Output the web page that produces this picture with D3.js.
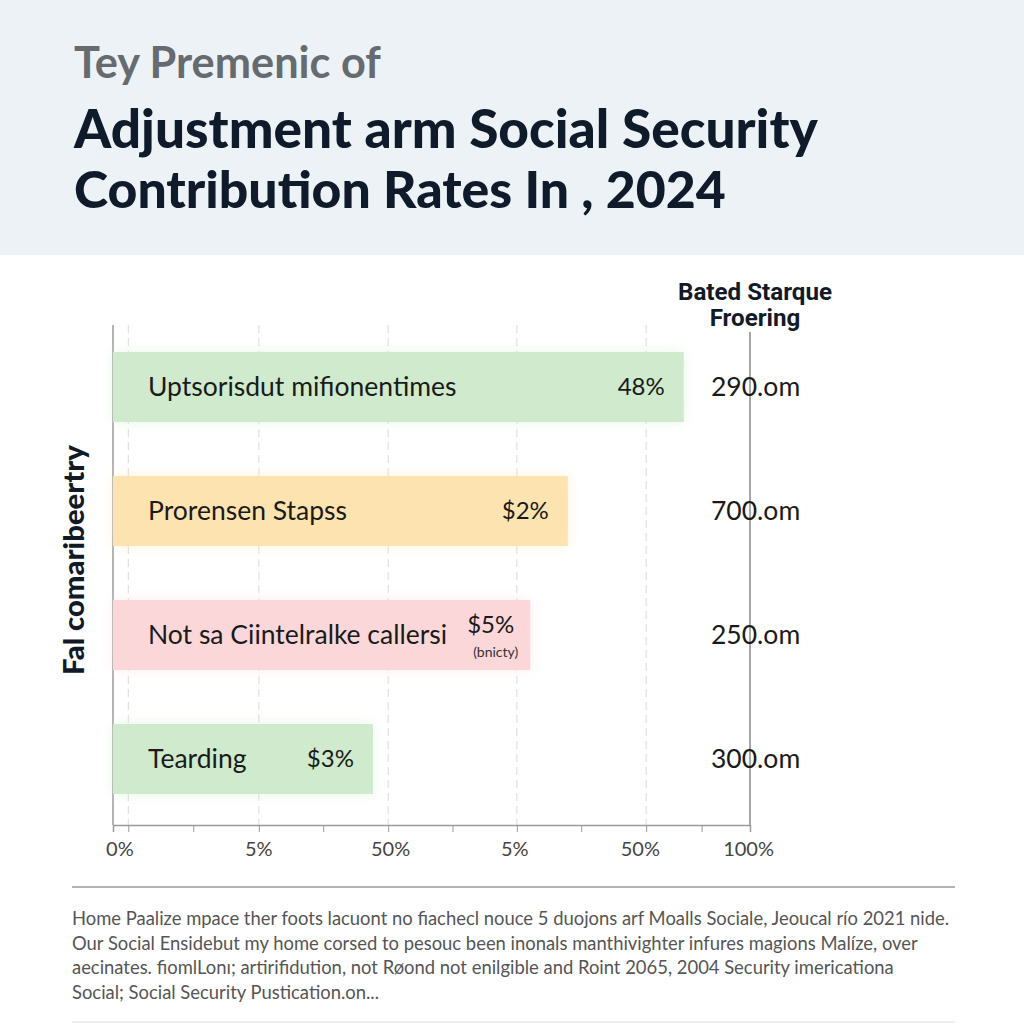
<!DOCTYPE html>
<html><head><meta charset="utf-8">
<script src="https://cdn.jsdelivr.net/npm/d3@7"></script>
<style>html,body{margin:0;padding:0;background:#fff}</style>
</head><body>
<svg id="c" width="1024" height="1024"></svg>
<script>
const categories = ["Uptsorisdut mifionentimes","Prorensen Stapss","Not sa Ciintelralke callersi","Tearding"];
const barValues = [89.6, 71.4, 65.5, 40.8];
const valueLabels = ["48%","$2%","$5%","$3%"];
const valueSubLabels = ["","","(bnicty)",""];
const rightValues = ["290.om","700.om","250.om","300.om"];
const barColors = ["#cfeacd","#fde3b0","#fbd7d9","#cfeacd"];
const tickValues = [1, 22.8, 43.5, 63, 82.7, 99.7];
const tickLabels = ["0%","5%","50%","5%","50%","100%"];
const gridValues = [2.4, 22.9, 43.2, 63.4, 83.7];
const minorTicks = [2.4, 12.6, 22.9, 33, 43.2, 53.3, 63.4, 73.5, 83.7, 92.4, 100];
const titleLines = ["Tey Premenic of","Adjustment arm Social Security","Contribution Rates In , 2024"];
const rightHeader = ["Bated Starque","Froering"];
const yTitle = "Fal comaribeertry";
const footLines = [
 "Home Paalize mpace ther foots lacuont no fiachecl nouce 5 duojons arf Moalls Sociale, Jeoucal río 2021 nide.",
 "Our Social Ensidebut my home corsed to pesouc been inonals manthivighter infures magions Malíze, over",
 "aecinates. fiomlLonı; artirifidution, not Røond not enilgible and Roint 2065, 2004 Security imericationa",
 "Social; Social Security Pustication.on..."
];

const svg = d3.select("#c");
const defs = svg.append("defs");
const f = defs.append("filter").attr("id","glow").attr("x","-10%").attr("y","-30%").attr("width","120%").attr("height","160%");
f.append("feGaussianBlur").attr("in","SourceGraphic").attr("stdDeviation",7).attr("result","b");
f.append("feComponentTransfer").attr("in","b").attr("result","b2").append("feFuncA").attr("type","linear").attr("slope",0.45);
const m = f.append("feMerge"); m.append("feMergeNode").attr("in","b2"); m.append("feMergeNode").attr("in","SourceGraphic");

svg.append("rect").attr("x",0).attr("y",0).attr("width",1024).attr("height",255).attr("fill","#edf2f6");

function fit(sel, w){ const n=sel.node(); const L=n.getComputedTextLength(); const fs=parseFloat(sel.attr("font-size")); sel.attr("font-size", fs*w/L); }

const t1 = svg.append("text").attr("x",74).attr("y",78).attr("font-family","Lato").attr("font-weight",700)
 .attr("font-size",38).attr("fill","#666b70").text(titleLines[0]); fit(t1,307);
const t2 = svg.append("text").attr("x",74).attr("y",148).attr("font-family","Lato").attr("font-weight",900)
 .attr("font-size",50).attr("fill","#0f1b2b").text(titleLines[1]); fit(t2,744);
const t3 = svg.append("text").attr("x",74).attr("y",208).attr("font-family","Lato").attr("font-weight",900)
 .attr("font-size",50).attr("fill","#0f1b2b").text(titleLines[2]); fit(t3,652);

const x = d3.scaleLinear().domain([0,100]).range([113,750]);
const y = d3.scaleBand().domain(categories).range([325,821]).paddingInner(0.435).paddingOuter(0.2175);

svg.append("g").selectAll("line").data(gridValues).join("line")
 .attr("x1",d=>x(d)).attr("x2",d=>x(d)).attr("y1",325).attr("y2",825)
 .attr("stroke","#dadada").attr("stroke-width",1).attr("stroke-dasharray","8,5");

svg.append("line").attr("x1",113).attr("x2",113).attr("y1",325).attr("y2",825).attr("stroke","#9a9a9a").attr("stroke-width",1.5);
svg.append("line").attr("x1",x(100)).attr("x2",x(100)).attr("y1",332).attr("y2",825).attr("stroke","#8a8a8a").attr("stroke-width",1.5);

const ax = svg.append("g").attr("transform","translate(0,825)")
 .call(d3.axisBottom(x).tickValues(minorTicks).tickSize(7).tickFormat(""));
ax.select(".domain").attr("stroke","#9a9a9a").attr("stroke-width",1.5);
ax.selectAll(".tick line").attr("stroke","#9a9a9a");
const ax2 = svg.append("g").attr("transform","translate(0,825)")
 .call(d3.axisBottom(x).tickValues(tickValues).tickSize(0).tickPadding(17).tickFormat((d,i)=>tickLabels[i]));
ax2.select(".domain").remove();
ax2.selectAll("text").attr("font-family","Lato").attr("font-size",20).attr("fill","#444");

const bars = svg.append("g");
bars.selectAll("rect").data(categories).join("rect")
 .attr("x",x(0)).attr("y",d=>y(d)).attr("width",(d,i)=>x(barValues[i])-x(0)).attr("height",y.bandwidth())
 .attr("fill",(d,i)=>barColors[i]).attr("filter","url(#glow)");

bars.selectAll("text.cat").data(categories).join("text").attr("class","cat")
 .attr("x",148).attr("y",d=>y(d)+y.bandwidth()/2).attr("dy","0.35em")
 .attr("font-family","Lato").attr("font-size",26.5).attr("fill","#1a1a1a").text(d=>d);

bars.selectAll("text.val").data(categories).join("text").attr("class","val")
 .attr("x",(d,i)=>x(barValues[i])-(valueSubLabels[i]?16:19))
 .attr("y",(d,i)=>y(d)+y.bandwidth()/2-(valueSubLabels[i]?10:0)).attr("dy","0.35em")
 .attr("text-anchor","end").attr("font-family","Lato").attr("font-size",24).attr("fill","#1a1a1a")
 .text((d,i)=>valueLabels[i]);

bars.selectAll("text.sub").data(categories).join("text").attr("class","sub")
 .attr("x",(d,i)=>x(barValues[i])-12).attr("y",d=>y(d)+y.bandwidth()/2+17).attr("dy","0.35em")
 .attr("text-anchor","end").attr("font-family","Lato").attr("font-size",14).attr("fill","#333")
 .text((d,i)=>valueSubLabels[i]);

svg.append("g").selectAll("text").data(categories).join("text")
 .attr("x",711).attr("y",d=>y(d)+y.bandwidth()/2).attr("dy","0.35em")
 .attr("font-family","Lato").attr("font-size",26.5).attr("fill","#1a1a1a").text((d,i)=>rightValues[i]);

const rh = svg.append("g").selectAll("text").data(rightHeader).join("text")
 .attr("x",755).attr("y",(d,i)=>300+i*26).attr("text-anchor","middle")
 .attr("font-family","Liberation Sans Narrow, Roboto").attr("font-weight",700).attr("font-size",22)
 .attr("fill","#111a26").text(d=>d);
fit(d3.select(rh.nodes()[0]),154);
rh.attr("font-size", d3.select(rh.nodes()[0]).attr("font-size"));

const yt = svg.append("text").attr("transform","translate(84,560) rotate(-90)").attr("text-anchor","middle")
 .attr("font-family","Lato").attr("font-weight",900).attr("font-size",23).attr("fill","#111a26").text(yTitle);
fit(yt,230);

svg.append("line").attr("x1",72).attr("x2",955).attr("y1",887).attr("y2",887).attr("stroke","#999").attr("stroke-width",1.5);
svg.append("line").attr("x1",72).attr("x2",955).attr("y1",1022).attr("y2",1022).attr("stroke","#ddd").attr("stroke-width",1);
const ft = svg.append("g").selectAll("text").data(footLines).join("text")
 .attr("x",72).attr("y",(d,i)=>925+i*24.7).attr("font-family","Lato").attr("font-size",18).attr("fill","#555").text(d=>d);
fit(d3.select(ft.nodes()[0]), 878);
ft.attr("font-size", d3.select(ft.nodes()[0]).attr("font-size"));
</script>
</body></html>
